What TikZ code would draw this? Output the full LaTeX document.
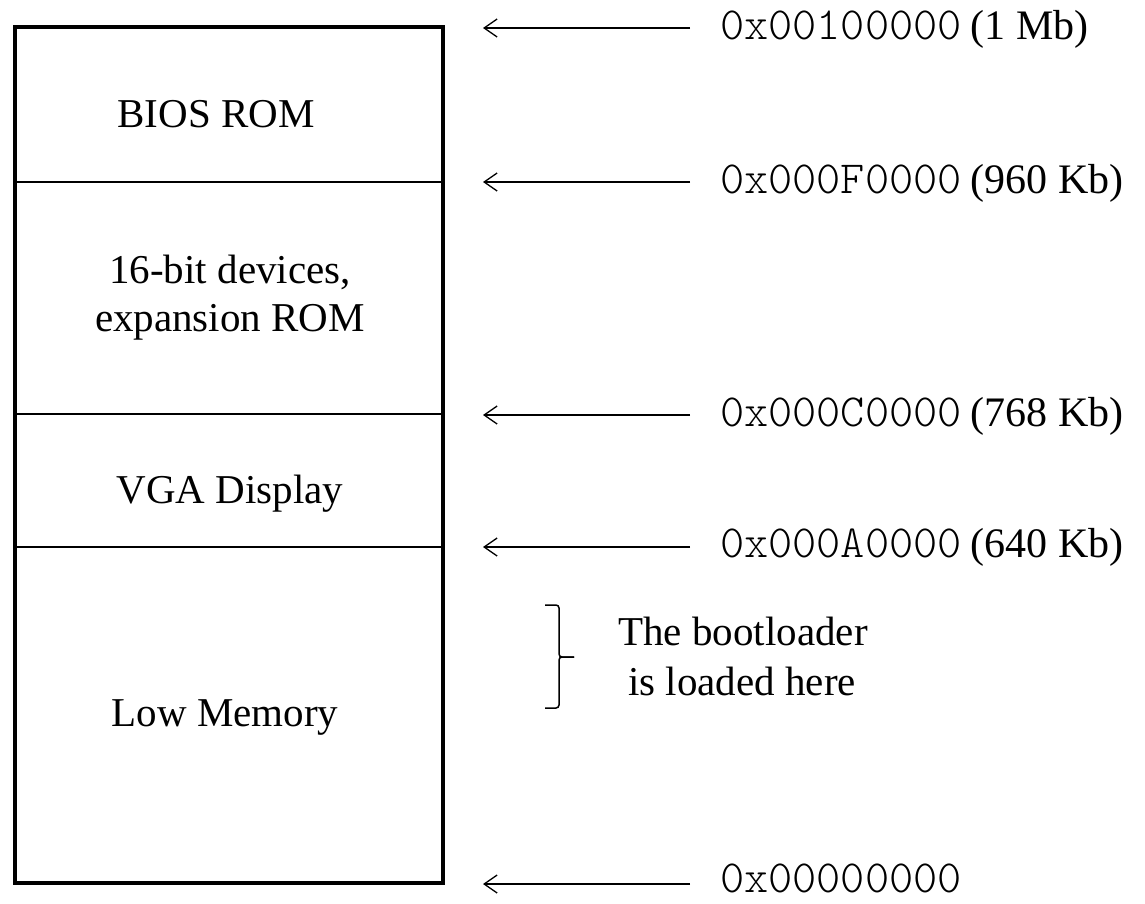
\documentclass[tikz,border=0pt]{standalone}
\usepackage{fontspec}
\setmainfont{Liberation Serif}
\setmonofont{Latin Modern Mono Light}
\usetikzlibrary{arrows.meta}
\begin{document}
\begin{tikzpicture}[x=1pt,y=-1pt,
  lbl/.style={inner sep=0pt,anchor=base,font=\fontsize{41}{48}\selectfont},
  addr/.style={inner sep=0pt,anchor=base west,font=\fontsize{42}{48}\selectfont},
  ptr/.style={line width=1.3pt,-{Straight Barb[length=13pt,width=18pt,line width=1.3pt]}},
  divider/.style={line width=2pt}]
\useasboundingbox (0,0) rectangle (1145,903);
% outer box
\draw[line width=4pt] (14.7,27) rectangle (442.7,882.5);
% dividers
\coordinate (d1l) at (14.7,182); \coordinate (d1r) at (442.7,182);
\coordinate (d2l) at (14.7,414); \coordinate (d2r) at (442.7,414);
\coordinate (d3l) at (14.7,547); \coordinate (d3r) at (442.7,547);
\draw[divider] (d1l) -- (d1r);
\draw[divider] (d2l) -- (d2r);
\draw[divider] (d3l) -- (d3r);
% region labels
\node[lbl] (bios) at (216,127) {BIOS ROM};
\node[lbl] (dev1) at (230,283) {16-bit devices,};
\node[lbl] (dev2) at (230,331) {expansion ROM};
\node[lbl] (vga) at (230,503) {VGA Display};
\node[lbl] (low) at (225,726) {Low Memory};
% arrows
\foreach \n/\y in {a/28,b/182,c/415,d/547,e/884}{
  \coordinate (s\n) at (690,\y);
  \coordinate (t\n) at (483,\y);
  \draw[ptr] (s\n) -- (t\n);
}
% addresses
\newcommand{\hx}[1]{{\fontsize{46}{48}\selectfont\ttfamily #1}}
\node[addr] (la) at (720,39) {\hx{0x00100000}\hspace{9pt}(1 Mb)};
\node[addr] (lb) at (720,193) {\hx{0x000F0000}\hspace{9pt}(960 Kb)};
\node[addr] (lc) at (720,426) {\hx{0x000C0000}\hspace{9pt}(768 Kb)};
\node[addr] (ld) at (720,557) {\hx{0x000A0000}\hspace{9pt}(640 Kb)};
\node[addr] (le) at (720,892) {\hx{0x00000000}};
% brace
\coordinate (btop) at (545,605);
\coordinate (btip) at (574,657);
\coordinate (bbot) at (545,708);
\draw[line width=1.5pt,rounded corners=3pt] (btop) -- (559,605) -- (559,657) -- (btip);
\draw[line width=1.5pt,rounded corners=3pt] (btip) -- (559,657) -- (559,708) -- (bbot);
\node[lbl] (boot1) at (743,645) {The bootloader};
\node[lbl] (boot2) at (742,695) {is loaded here};
\end{tikzpicture}
\end{document}
